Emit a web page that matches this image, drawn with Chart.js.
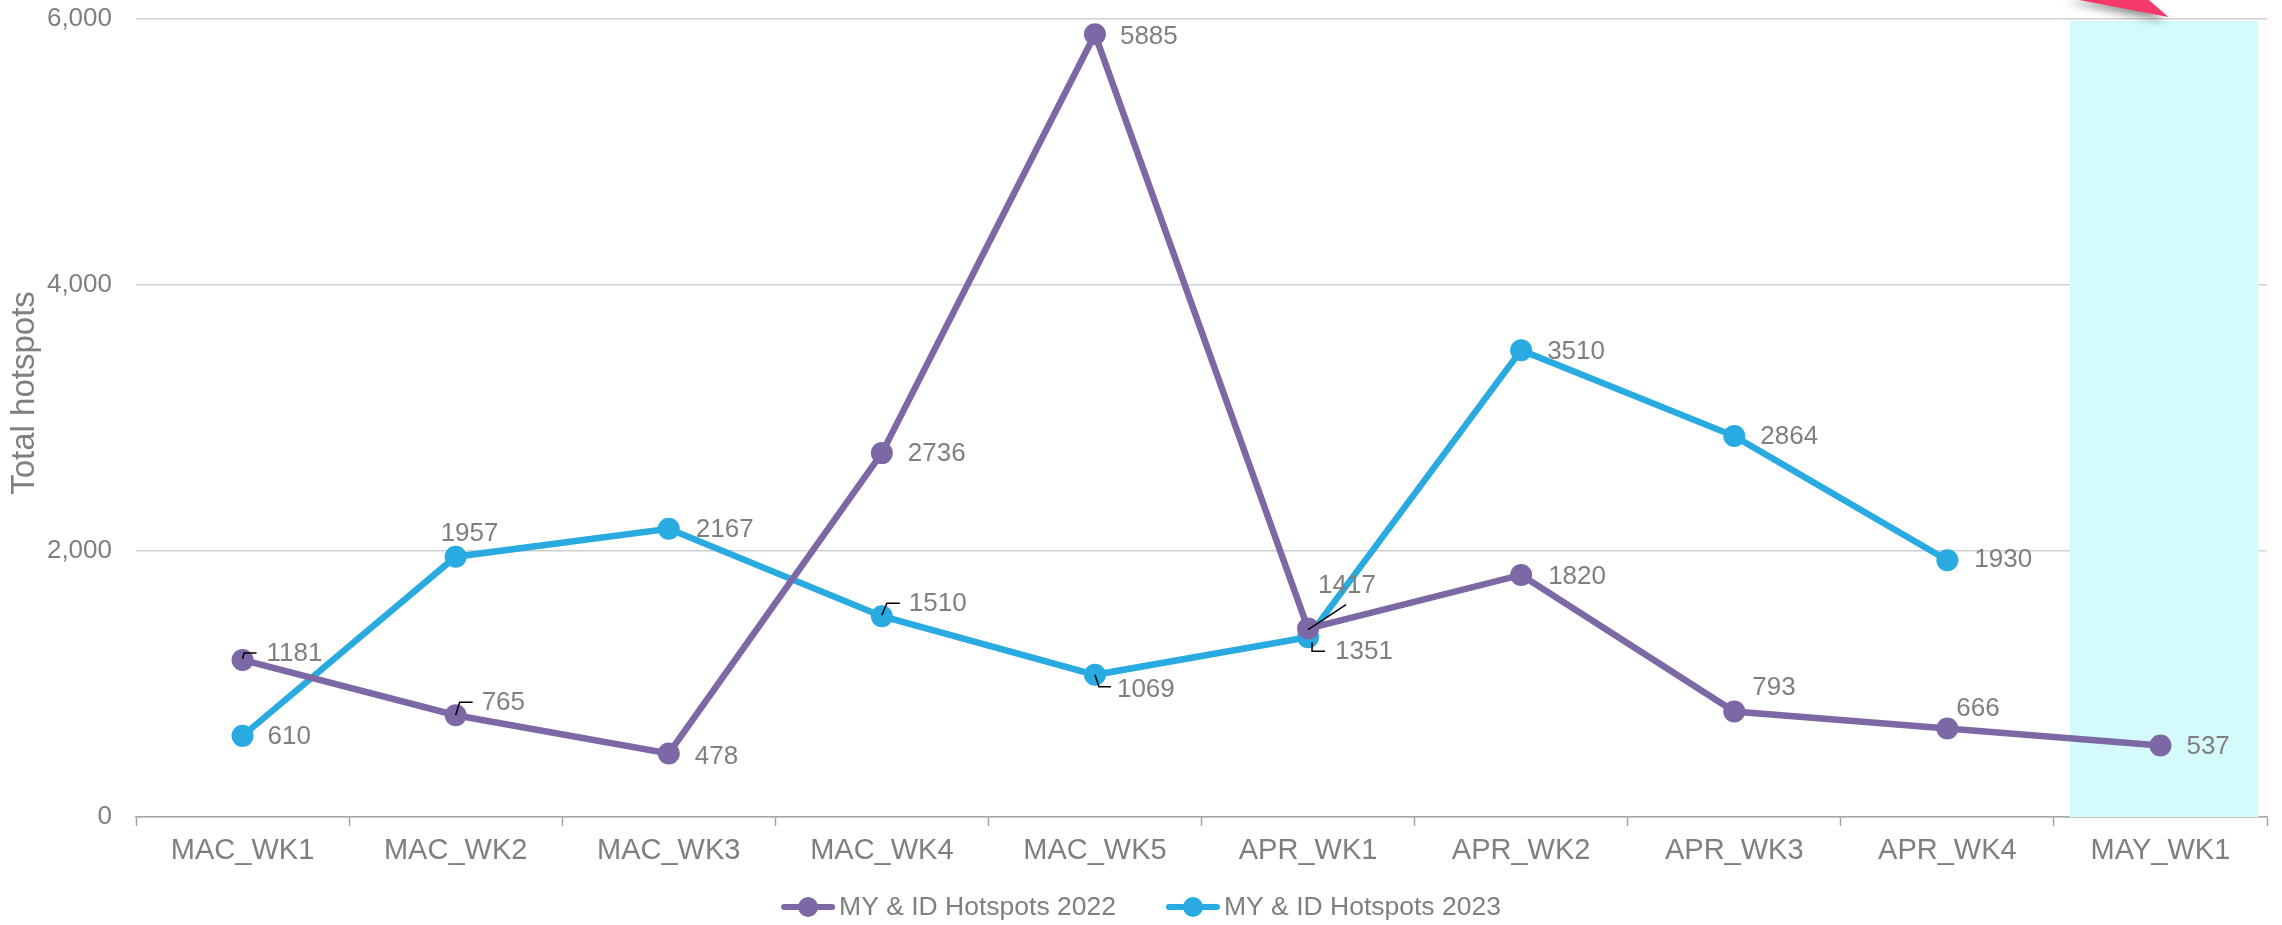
<!DOCTYPE html>
<html>
<head>
<meta charset="utf-8">
<script src="https://cdn.jsdelivr.net/npm/chart.js@4/dist/chart.umd.min.js"></script>
<style>
  html, body { margin: 0; padding: 0; background: #ffffff; }
  #wrap { width: 2282px; height: 925px; position: relative; }
</style>
</head>
<body>
<div id="wrap"><canvas id="c" width="2282" height="925"></canvas></div>
<script>
// ---- data ----
const categories = ['MAC_WK1','MAC_WK2','MAC_WK3','MAC_WK4','MAC_WK5','APR_WK1','APR_WK2','APR_WK3','APR_WK4','MAY_WK1'];
const hotspots2022 = [1181, 765, 478, 2736, 5885, 1417, 1820, 793, 666, 537];
const hotspots2023 = [610, 1957, 2167, 1510, 1069, 1351, 3510, 2864, 1930, null];
const seriesNames = ['MY & ID Hotspots 2022', 'MY & ID Hotspots 2023'];
const yTicks = [0, 2000, 4000, 6000];
const yTitle = 'Total hotspots';

// ---- styles ----
const FONT = '"Liberation Sans", Arial, sans-serif';
const GREY = '#7F7F7F';
const PURPLE = '#7D68A6';
const BLUE = '#29ABE2';

// label placement (offsets from point centre: text left x, text middle y) and leader paths
const labelStyle2022 = [
  {dx:24, dy:-6, leader:[[0,-1],[1.5,-7],[14,-7]]},
  {dx:26, dy:-12, leader:[[0,0],[4,-13],[17,-13]]},
  {dx:26, dy:3},
  {dx:26, dy:1},
  {dx:25, dy:3},
  {dx:10, dy:-43, leader:[[0,1],[38,-24]]},
  {dx:27, dy:2},
  {dx:18, dy:-24},
  {dx:9, dy:-20},
  {dx:26, dy:1}
];
const labelStyle2023 = [
  {dx:25, dy:1},
  {dx:-15, dy:-23},
  {dx:27, dy:1},
  {dx:27, dy:-12, leader:[[0,-1],[5,-13],[18,-13]]},
  {dx:22, dy:15, leader:[[0,0],[4,12],[16,12]]},
  {dx:27, dy:15, leader:[[4,5],[4,14],[17,14]]},
  {dx:26, dy:2},
  {dx:26, dy:1},
  {dx:27, dy:0},
  null
];

const highlightPlugin = {
  id: 'highlight',
  beforeDatasetsDraw(chart) {
    const {ctx, chartArea, scales} = chart;
    const xs = scales.x;
    const step = xs.getPixelForValue(1) - xs.getPixelForValue(0);
    const cx = xs.getPixelForValue(categories.length - 1);
    ctx.save();
    ctx.fillStyle = '#D5FAFB';
    const left = cx - step * 0.425;
    const right = cx + step * 0.46;
    ctx.fillRect(left, chartArea.top + 2, right - left, chartArea.bottom - chartArea.top - 2);
    ctx.restore();
  },
  afterDraw(chart) {
    // pink arrow pointing at highlighted week
    const {ctx, chartArea, scales} = chart;
    const xs = scales.x;
    const cx = xs.getPixelForValue(categories.length - 1);
    const tipX = cx + 8, tipY = chartArea.top - 2;
    ctx.save();
    ctx.shadowColor = 'rgba(0,0,0,0.45)';
    ctx.shadowBlur = 8;
    ctx.shadowOffsetX = -3;
    ctx.shadowOffsetY = 4;
    ctx.fillStyle = '#F7386A';
    ctx.beginPath();
    ctx.moveTo(tipX - 100, -2);
    ctx.lineTo(tipX - 22, -2);
    ctx.lineTo(tipX, tipY);
    ctx.closePath();
    ctx.fill();
    ctx.restore();
  }
};

const labelPlugin = {
  id: 'valueLabels',
  afterDatasetsDraw(chart) {
    const {ctx} = chart;
    const styles = [labelStyle2022, labelStyle2023];
    ctx.save();
    ctx.font = '26px ' + FONT;
    ctx.textAlign = 'left';
    ctx.textBaseline = 'middle';
    chart.data.datasets.forEach((ds, di) => {
      const meta = chart.getDatasetMeta(di);
      meta.data.forEach((pt, i) => {
        const v = ds.data[i];
        const st = styles[di][i];
        if (v == null || !st) return;
        const x = pt.x, y = pt.y;
        if (st.leader) {
          ctx.strokeStyle = '#000000';
          ctx.lineWidth = 1.5;
          ctx.beginPath();
          st.leader.forEach((p, k) => {
            if (k === 0) ctx.moveTo(x + p[0], y + p[1]); else ctx.lineTo(x + p[0], y + p[1]);
          });
          ctx.stroke();
        }
        ctx.fillStyle = GREY;
        ctx.fillText(String(v), x + st.dx, y + st.dy);
      });
    });
    ctx.restore();
  }
};

const legendPlugin = {
  id: 'customLegend',
  afterDraw(chart) {
    const {ctx} = chart;
    const colors = [PURPLE, BLUE];
    const y = 907;
    const markerW = 54, markerGap = 4, itemGap = 50;
    ctx.save();
    ctx.font = '26.5px ' + FONT;
    ctx.textBaseline = 'middle';
    ctx.textAlign = 'left';
    const widths = seriesNames.map(n => ctx.measureText(n).width);
    const total = widths.reduce((a, w) => a + markerW + markerGap + w, 0) + itemGap * (seriesNames.length - 1);
    let x = chart.width / 2 - total / 2;
    seriesNames.forEach((name, i) => {
      ctx.strokeStyle = colors[i];
      ctx.lineWidth = 6;
      ctx.lineCap = 'round';
      ctx.beginPath();
      ctx.moveTo(x + 3, y);
      ctx.lineTo(x + markerW - 3, y);
      ctx.stroke();
      ctx.fillStyle = colors[i];
      ctx.beginPath();
      ctx.arc(x + markerW / 2, y, 10, 0, Math.PI * 2);
      ctx.fill();
      const tx = x + markerW + markerGap;
      ctx.fillStyle = GREY;
      ctx.fillText(name, tx, y + 1);
      x = tx + widths[i] + itemGap;
    });
    ctx.restore();
  }
};

const yTitlePlugin = {
  id: 'yTitle',
  afterDraw(chart) {
    const {ctx, chartArea} = chart;
    ctx.save();
    ctx.font = '33px ' + FONT;
    ctx.fillStyle = GREY;
    ctx.textAlign = 'center';
    ctx.textBaseline = 'middle';
    ctx.translate(25, (chartArea.top + chartArea.bottom) / 2 - 25);
    ctx.rotate(-Math.PI / 2);
    ctx.fillText(yTitle, 0, 0);
    ctx.restore();
  }
};

new Chart(document.getElementById('c'), {
  type: 'line',
  data: {
    labels: categories,
    datasets: [
      {
        label: seriesNames[0],
        data: hotspots2022,
        borderColor: PURPLE,
        backgroundColor: PURPLE,
        borderWidth: 6.5,
        pointRadius: 11,
        pointHoverRadius: 11,
        pointBorderWidth: 0,
        tension: 0
      },
      {
        label: seriesNames[1],
        data: hotspots2023,
        borderColor: BLUE,
        backgroundColor: BLUE,
        borderWidth: 6.5,
        pointRadius: 11,
        pointHoverRadius: 11,
        pointBorderWidth: 0,
        tension: 0
      }
    ]
  },
  options: {
    responsive: false,
    devicePixelRatio: 1,
    animation: false,
    layout: { padding: { top: 19, right: 15, left: 0, bottom: 0 } },
    plugins: {
      legend: { display: false },
      tooltip: { enabled: false }
    },
    scales: {
      x: {
        offset: true,
        grid: {
          offset: true,
          drawOnChartArea: false,
          drawTicks: true,
          tickLength: 9,
          tickColor: '#A6A6A6',
          tickWidth: 1.5
        },
        border: { display: true, color: '#A6A6A6', width: 1.5 },
        ticks: {
          color: GREY,
          font: { family: FONT, size: 29 },
          padding: 8,
          maxRotation: 0,
          autoSkip: false
        },
        afterFit(scale) { scale.height = 108; }
      },
      y: {
        min: 0,
        max: 6000,
        afterBuildTicks(scale) { scale.ticks = yTicks.map(v => ({value: v})); },
        grid: { color: '#D0D0D0', lineWidth: 1.5, drawTicks: true, tickLength: 24, tickColor: 'rgba(0,0,0,0)' },
        border: { display: false },
        ticks: {
          color: GREY,
          font: { family: FONT, size: 26 },
          padding: 0,
          callback: (v) => Number(v).toLocaleString('en-US')
        },
        afterFit(scale) { scale.width = 136; }
      }
    }
  },
  plugins: [highlightPlugin, labelPlugin, legendPlugin, yTitlePlugin]
});
</script>
</body>
</html>
